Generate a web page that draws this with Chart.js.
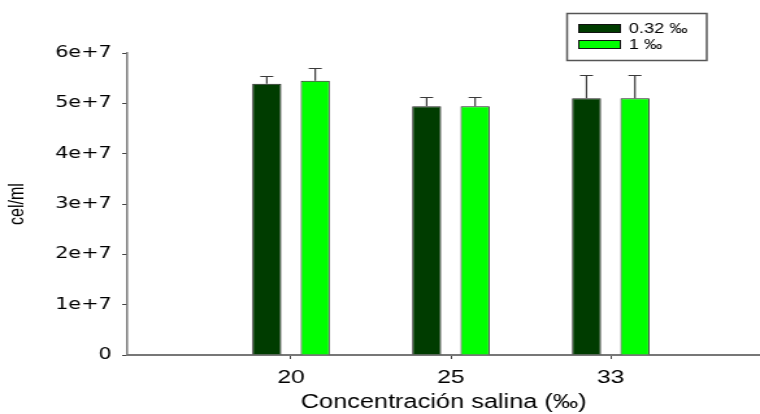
<!DOCTYPE html>
<html>
<head>
<meta charset="utf-8">
<script src="https://cdn.jsdelivr.net/npm/chart.js@4.4.1/dist/chart.umd.min.js"></script>
<style>
  html, body { margin: 0; padding: 0; background: #fff; }
  #wrap { width: 760px; height: 414px; overflow: hidden; }
  /* el original esta estirado en horizontal: se dibuja en 585px y se estira a 760 */
  #chart { width: 760px !important; height: 414px !important; }
</style>
</head>
<body>
<div id="wrap"><canvas id="chart" width="585" height="414" style="width:760px;height:414px"></canvas></div>
<script>
// salinidad (‰)
const categories = ['20', '25', '33'];
const seriesLabels = ['0.32 ‰', '1 ‰'];
const seriesColors = ['#003c00', '#00ff00'];
// cel/ml
const lowValues = [5.39e7, 4.94e7, 5.10e7];
const highValues = [5.45e7, 4.94e7, 5.10e7];
// error superior
const lowErrors = [0.15e7, 0.18e7, 0.46e7];
const highErrors = [0.26e7, 0.18e7, 0.46e7];
const yTicks = [0, 1e7, 2e7, 3e7, 4e7, 5e7, 6e7];

const FONT = '"Liberation Sans", Arial, sans-serif';
const FONT_Y = '"DejaVu Sans", Verdana, sans-serif';

function toPoints(values) {
  return values.map((v, i) => ({ x: i + 1, y: v }));
}

// barras de error (solo hacia arriba)
const errorBars = {
  id: 'errorBars',
  afterDatasetsDraw(chart) {
    const ctx = chart.ctx;
    const yScale = chart.scales.y;
    const errs = [lowErrors, highErrors];
    chart.data.datasets.forEach((ds, di) => {
      const meta = chart.getDatasetMeta(di);
      meta.data.forEach((bar, i) => {
        const top = Math.round(yScale.getPixelForValue(ds.data[i].y + errs[di][i])) + 0.5;
        ctx.save();
        ctx.strokeStyle = '#3a3a3a';
        ctx.lineWidth = 1.2;
        ctx.beginPath();
        ctx.moveTo(bar.x, bar.y);
        ctx.lineTo(bar.x, top);
        ctx.moveTo(bar.x - 5, top);
        ctx.lineTo(bar.x + 5, top);
        ctx.stroke();
        ctx.restore();
      });
    });
  }
};

// leyenda con marco
const boxLegend = {
  id: 'boxLegend',
  afterDraw(chart) {
    const ctx = chart.ctx;
    ctx.save();
    ctx.strokeStyle = '#555';
    ctx.lineWidth = 1.5;
    ctx.strokeRect(436.5, 13.5, 107.5, 47);
    ctx.font = '14px ' + FONT;
    ctx.textBaseline = 'middle';
    seriesLabels.forEach((lab, i) => {
      const y = 24 + i * 16;
      ctx.fillStyle = seriesColors[i];
      ctx.fillRect(445.5, y, 32, 9);
      ctx.strokeStyle = '#111';
      ctx.lineWidth = 1;
      ctx.strokeRect(445.5, y + 0.5, 32, 8);
      ctx.fillStyle = '#000';
      ctx.fillText(lab, 484, y + 5);
    });
    ctx.restore();
  }
};

new Chart(document.getElementById('chart'), {
  type: 'bar',
  data: {
    datasets: [lowValues, highValues].map((vals, i) => ({
      label: seriesLabels[i],
      data: toPoints(vals),
      backgroundColor: seriesColors[i],
      borderColor: '#222',
      borderWidth: 1,
      categoryPercentage: 0.606,
      barPercentage: 0.6
    }))
  },
  options: {
    responsive: false,
    animation: false,
    devicePixelRatio: 1,
    layout: { padding: { top: 53, right: 0, left: 0, bottom: 0 } },
    plugins: {
      legend: { display: false },
      tooltip: { enabled: false }
    },
    scales: {
      x: {
        type: 'linear',
        min: -0.024,
        max: 3.934,
        offset: false,
        afterBuildTicks(scale) {
          scale.ticks = categories.map((c, i) => ({ value: i + 1 }));
        },
        afterFit(scale) { scale.height = 59; },
        grid: { offset: false, drawOnChartArea: false, drawTicks: true, tickLength: 4, color: '#444' },
        border: { color: '#777', width: 2 },
        ticks: {
          padding: 7,
          color: '#000',
          font: { family: FONT, size: 19 },
          callback: (v) => categories[v - 1]
        },
        title: {
          display: true,
          text: 'Concentración salina (‰)',
          color: '#000',
          font: { family: FONT, size: 19.5 },
          padding: { top: 0, bottom: 0 }
        }
      },
      y: {
        min: 0,
        max: 6e7,
        afterBuildTicks(scale) {
          scale.ticks = yTicks.map(v => ({ value: v }));
        },
        afterFit(scale) { scale.width = 98; },
        grid: { drawOnChartArea: false, drawTicks: true, tickLength: 4, color: '#444' },
        border: { color: '#777', width: 1.5 },
        ticks: {
          padding: 8,
          color: '#000',
          font: { family: FONT_Y, size: 16 },
          callback: (v) => v === 0 ? '0' : (v / 1e7) + 'e+7'
        },
        title: {
          display: true,
          text: 'cel/ml',
          color: '#000',
          font: { family: FONT, size: 16 },
          padding: { top: 4, bottom: 0 }
        }
      }
    }
  },
  plugins: [errorBars, boxLegend]
});
</script>
</body>
</html>
